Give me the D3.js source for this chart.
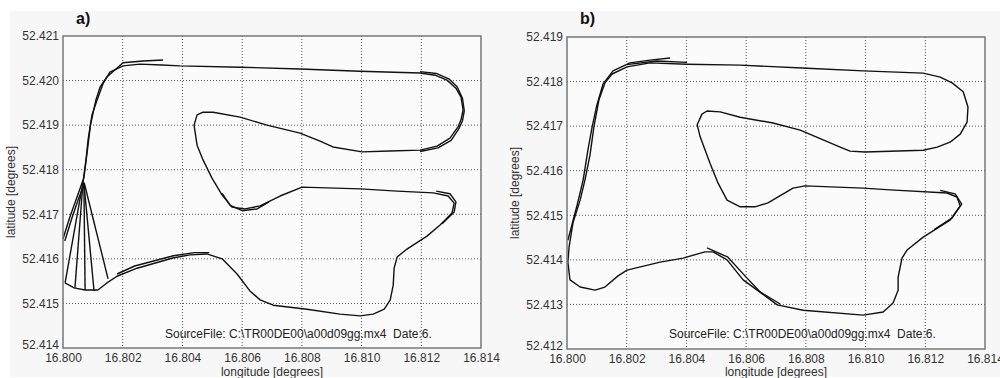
<!DOCTYPE html>
<html>
<head>
<meta charset="utf-8">
<script src="https://cdn.jsdelivr.net/npm/d3@7"></script>
<style>
  body { margin: 0; background: #fff; }
  svg { display: block; font-family: "Liberation Sans", Arial, sans-serif; }
  .src { white-space: pre; }
</style>
</head>
<body>
<div id="chart"></div>
<script>
// axis ticks
const lonTicks = [16.800, 16.802, 16.804, 16.806, 16.808, 16.810, 16.812, 16.814];
const latTicksA = [52.414, 52.415, 52.416, 52.417, 52.418, 52.419, 52.420, 52.421];
const latTicksB = [52.412, 52.413, 52.414, 52.415, 52.416, 52.417, 52.418, 52.419];
const sourceText = 'SourceFile: C:\\TR00DE00\\a00d09gg.mx4  Date:6.';

// panel a) raw track, one full lap [lon, lat]
const lapA1 = [
  [16.80007, 52.41546], [16.80067, 52.41772], [16.80077, 52.41822], [16.80084, 52.41867],
  [16.80097, 52.41923], [16.80114, 52.41956], [16.80134, 52.41993], [16.80157, 52.42019],
  [16.80201, 52.42033], [16.80258, 52.42037], [16.80330, 52.42035], [16.80392, 52.42033],
  [16.80593, 52.42030], [16.80794, 52.42026], [16.80995, 52.42021], [16.81196, 52.42017],
  [16.81246, 52.42012], [16.81286, 52.42001], [16.81316, 52.41983], [16.81333, 52.41963],
  [16.81340, 52.41934], [16.81333, 52.41912], [16.81323, 52.41896], [16.81296, 52.41871],
  [16.81253, 52.41853], [16.81196, 52.41844], [16.81095, 52.41842], [16.81002, 52.41840],
  [16.80904, 52.41851], [16.80861, 52.41864], [16.80794, 52.41882], [16.80683, 52.41900],
  [16.80593, 52.41918], [16.80503, 52.41929], [16.80469, 52.41929], [16.80449, 52.41923],
  [16.80439, 52.41900], [16.80449, 52.41855], [16.80469, 52.41822], [16.80499, 52.41781],
  [16.80533, 52.41743], [16.80566, 52.41716], [16.80610, 52.41712], [16.80660, 52.41719],
  [16.80727, 52.41741], [16.80801, 52.41761], [16.80995, 52.41757], [16.81119, 52.41752],
  [16.81240, 52.41748], [16.81290, 52.41741], [16.81310, 52.41725], [16.81303, 52.41703],
  [16.81263, 52.41676], [16.81219, 52.41651], [16.81152, 52.41622], [16.81119, 52.41604],
  [16.81109, 52.41579], [16.81106, 52.41541], [16.81096, 52.41508], [16.81076, 52.41487],
  [16.81039, 52.41476], [16.80995, 52.41472], [16.80928, 52.41476], [16.80817, 52.41487],
  [16.80704, 52.41496], [16.80660, 52.41508], [16.80626, 52.41528], [16.80583, 52.41566],
  [16.80533, 52.41600], [16.80482, 52.41611], [16.80425, 52.41609], [16.80368, 52.41602],
  [16.80248, 52.41579], [16.80181, 52.41561], [16.80147, 52.41546], [16.80117, 52.41530],
  [16.80074, 52.41530], [16.80037, 52.41535], [16.80007, 52.41546]
];
// panel a) second pass, partial, ends at top left
const lapA2 = [
  [16.80000, 52.41645], [16.80023, 52.41694], [16.80047, 52.41739], [16.80070, 52.41782],
  [16.80081, 52.41840], [16.80092, 52.41900], [16.80110, 52.41956], [16.80124, 52.41985],
  [16.80147, 52.42008], [16.80201, 52.42040], [16.80268, 52.42044], [16.80335, 52.42046]
];
const stubA = [
  [16.80006, 52.41640], [16.80029, 52.41690], [16.80052, 52.41735], [16.80072, 52.41770]
];
// panel a) gap jumps from the apex down to the bottom arc
const fanA = [
  [[16.80067, 52.41772], [16.80040, 52.41535]],
  [[16.80070, 52.41772], [16.80074, 52.41530]],
  [[16.80070, 52.41770], [16.80104, 52.41528]],
  [[16.80072, 52.41768], [16.80151, 52.41555]]
];
// panel a) doubled stretches of a second lap
const dblA = [
  [[16.81196, 52.42020], [16.81250, 52.42016], [16.81292, 52.42004], [16.81320, 52.41986],
   [16.81338, 52.41960], [16.81344, 52.41932], [16.81338, 52.41910], [16.81326, 52.41892],
   [16.81300, 52.41866], [16.81256, 52.41849], [16.81196, 52.41841]],
  [[16.80533, 52.41747], [16.80560, 52.41720], [16.80600, 52.41708], [16.80650, 52.41712],
   [16.80690, 52.41728]],
  [[16.81250, 52.41752], [16.81296, 52.41746], [16.81316, 52.41728], [16.81310, 52.41705],
   [16.81270, 52.41679]],
  [[16.80181, 52.41566], [16.80240, 52.41584], [16.80370, 52.41607], [16.80440, 52.41614],
   [16.80490, 52.41614]]
];

// panel b) corrected track, one full lap [lon, lat]
const lapB1 = [
  [16.80003, 52.41395], [16.80007, 52.41429], [16.80020, 52.41483], [16.80044, 52.41534],
  [16.80060, 52.41579], [16.80077, 52.41635], [16.80090, 52.41698], [16.80107, 52.41759],
  [16.80127, 52.41797], [16.80151, 52.41817], [16.80201, 52.41833], [16.80278, 52.41842],
  [16.80402, 52.41839], [16.80580, 52.41837], [16.80804, 52.41830], [16.80992, 52.41824],
  [16.81193, 52.41819], [16.81250, 52.41810], [16.81290, 52.41797], [16.81327, 52.41777],
  [16.81343, 52.41743], [16.81340, 52.41709], [16.81317, 52.41682], [16.81283, 52.41664],
  [16.81240, 52.41653], [16.81193, 52.41646], [16.80998, 52.41642], [16.80948, 52.41644],
  [16.80915, 52.41653], [16.80858, 52.41669], [16.80781, 52.41691], [16.80690, 52.41707],
  [16.80580, 52.41720], [16.80513, 52.41732], [16.80469, 52.41734], [16.80452, 52.41727],
  [16.80436, 52.41703], [16.80446, 52.41676], [16.80479, 52.41617], [16.80506, 52.41572],
  [16.80536, 52.41534], [16.80580, 52.41519], [16.80630, 52.41519], [16.80673, 52.41528],
  [16.80757, 52.41561], [16.80797, 52.41566], [16.80992, 52.41561], [16.81082, 52.41557],
  [16.81273, 52.41550], [16.81306, 52.41541], [16.81317, 52.41521], [16.81283, 52.41489],
  [16.81193, 52.41451], [16.81139, 52.41422], [16.81122, 52.41404], [16.81109, 52.41361],
  [16.81109, 52.41332], [16.81092, 52.41303], [16.81059, 52.41283], [16.80992, 52.41276],
  [16.80791, 52.41287], [16.80704, 52.41299], [16.80637, 52.41332], [16.80590, 52.41355],
  [16.80536, 52.41400], [16.80489, 52.41418], [16.80462, 52.41418], [16.80389, 52.41404],
  [16.80312, 52.41395], [16.80201, 52.41377], [16.80171, 52.41364], [16.80127, 52.41339],
  [16.80094, 52.41332], [16.80044, 52.41339], [16.80010, 52.41355], [16.80003, 52.41395]
];
// panel b) second pass, partial, ends at top left
const lapB2 = [
  [16.80003, 52.41444], [16.80034, 52.41523], [16.80054, 52.41579], [16.80070, 52.41646],
  [16.80084, 52.41698], [16.80100, 52.41747], [16.80121, 52.41795], [16.80154, 52.41824],
  [16.80211, 52.41842], [16.80278, 52.41848], [16.80345, 52.41853]
];
// panel b) doubled stretches of a second lap
const dblB = [
  [[16.80469, 52.41427], [16.80539, 52.41406], [16.80596, 52.41364], [16.80647, 52.41328],
   [16.80714, 52.41301]],
  [[16.81250, 52.41556], [16.81300, 52.41548], [16.81322, 52.41525], [16.81290, 52.41494],
   [16.81230, 52.41468]],
  [[16.80200, 52.41838], [16.80300, 52.41846], [16.80402, 52.41843]]
];

const W = 1000, H = 378;
const svg = d3.select('#chart').append('svg').attr('width', W).attr('height', H);

svg.append('rect').attr('x', 10).attr('y', 11).attr('width', 990).attr('height', 366)
  .attr('fill', '#f7f7f7');

function drawPanel(opt) {
  const x = d3.scaleLinear().domain([16.800, 16.814]).range([opt.left, opt.right]);
  const y = d3.scaleLinear().domain(opt.latDomain).range([opt.bottom, opt.top]);
  const g = svg.append('g');

  g.append('rect')
    .attr('x', opt.left).attr('y', opt.top)
    .attr('width', opt.right - opt.left).attr('height', opt.bottom - opt.top)
    .attr('fill', '#fbfbfb');

  // dotted grid
  g.selectAll('.gx').data(lonTicks.slice(1, -1)).enter().append('line')
    .attr('x1', d => x(d)).attr('x2', d => x(d))
    .attr('y1', opt.top).attr('y2', opt.bottom)
    .attr('stroke', '#555').attr('stroke-width', 1).attr('stroke-dasharray', '1,2');
  g.selectAll('.gy').data(opt.latTicks.slice(1, -1)).enter().append('line')
    .attr('y1', d => y(d)).attr('y2', d => y(d))
    .attr('x1', opt.left).attr('x2', opt.right)
    .attr('stroke', '#555').attr('stroke-width', 1).attr('stroke-dasharray', '1,2');

  const line = d3.line().x(d => x(d[0])).y(d => y(d[1]));
  const track = (data) => g.append('path').datum(data)
    .attr('fill', 'none').attr('stroke', '#111').attr('stroke-width', 1.4)
    .attr('stroke-linejoin', 'round').attr('d', line);
  opt.tracks.forEach(track);

  // axes
  g.append('g').attr('transform', `translate(0,${opt.bottom})`)
    .call(d3.axisBottom(x).tickValues(lonTicks).tickFormat(d3.format('.3f')).tickSize(0).tickPadding(5))
    .call(a => a.select('.domain').remove())
    .selectAll('text').attr('fill', '#333').style('font-size', '12px')
    .style('font-family', '"Liberation Sans", Arial, sans-serif');
  g.append('g').attr('transform', `translate(${opt.left},0)`)
    .call(d3.axisLeft(y).tickValues(opt.latTicks).tickFormat(d3.format('.3f')).tickSize(0).tickPadding(4))
    .call(a => a.select('.domain').remove())
    .selectAll('text').attr('fill', '#333').style('font-size', '12px')
    .style('font-family', '"Liberation Sans", Arial, sans-serif')
    .attr('dy', (d, i) => i === 0 ? '0.05em' : '0.32em');

  g.append('rect')
    .attr('x', opt.left).attr('y', opt.top)
    .attr('width', opt.right - opt.left).attr('height', opt.bottom - opt.top)
    .attr('fill', 'none').attr('stroke', '#777').attr('stroke-width', 1.5);

  g.append('text').attr('x', (opt.left + opt.right) / 2).attr('y', 376)
    .attr('text-anchor', 'middle').attr('font-size', 12).attr('fill', '#333')
    .text('longitude [degrees]');
  g.append('text')
    .attr('transform', `translate(${opt.left - 48},${(opt.top + opt.bottom) / 2}) rotate(-90)`)
    .attr('text-anchor', 'middle').attr('font-size', 12).attr('fill', '#333')
    .text('latitude [degrees]');
  g.append('text').attr('class', 'src').attr('x', opt.left + 102).attr('y', 338)
    .attr('font-size', 12).attr('fill', '#222').text(sourceText);
  g.append('text').attr('x', opt.left + 13).attr('y', 24)
    .attr('font-size', 16).attr('font-weight', 'bold').attr('fill', '#111')
    .text(opt.label);
}

drawPanel({
  left: 63, right: 481, top: 36, bottom: 348,
  latDomain: [52.414, 52.421], latTicks: latTicksA, label: 'a)',
  tracks: [lapA1, lapA2, stubA, ...fanA, ...dblA]
});
drawPanel({
  left: 567, right: 985, top: 37, bottom: 349,
  latDomain: [52.412, 52.419], latTicks: latTicksB, label: 'b)',
  tracks: [lapB1, lapB2, ...dblB]
});
</script>
</body>
</html>
